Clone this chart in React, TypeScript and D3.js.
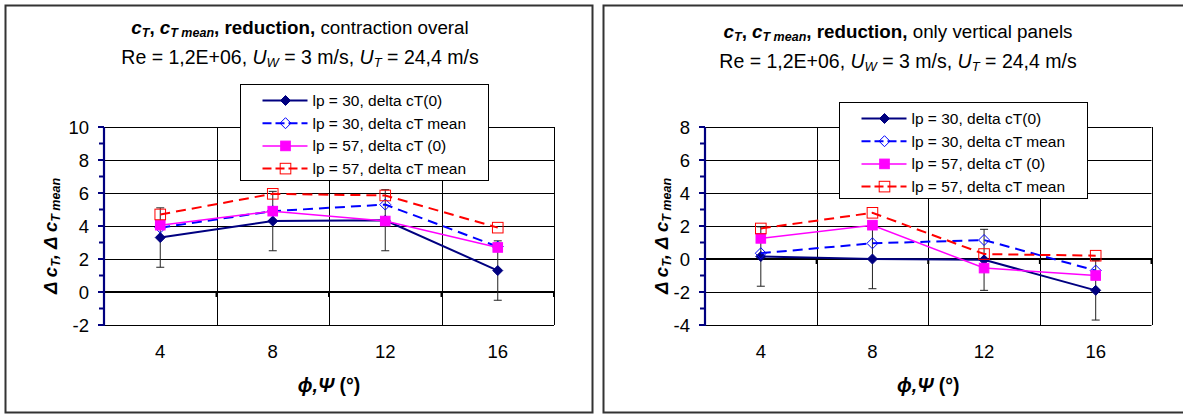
import * as d3 from 'd3'

const categories = [4, 8, 12, 16]
const legendLabels = [
  'lp = 30, delta cT(0)',
  'lp = 30, delta cT mean',
  'lp = 57, delta cT (0)',
  'lp = 57, delta cT mean',
]

// contraction overal
const overalCT0Lp30 = [3.3, 4.3, 4.35, 1.3]
const overalCTMeanLp30 = [3.9, 4.9, 5.3, 2.75]
const overalCT0Lp57 = [4.05, 4.9, 4.3, 2.7]
const overalCTMeanLp57 = [4.7, 5.95, 5.85, 3.9]
const overalErr = [1.8, 1.8, 1.85, 1.8]

// only vertical panels
const verticalCT0Lp30 = [0.15, 0, -0.05, -1.9]
const verticalCTMeanLp30 = [0.35, 0.95, 1.15, -0.7]
const verticalCT0Lp57 = [1.25, 2.05, -0.55, -1.0]
const verticalCTMeanLp57 = [1.85, 2.8, 0.3, 0.2]
const verticalErr = [1.8, 1.8, 1.85, 1.8]

const FONT = '"Liberation Sans", Arial, sans-serif'

const styles = [
  { color: '#000080', dash: undefined, width: 2, marker: 'diamond', fill: true },
  { color: '#0000ff', dash: '10,6', width: 2, marker: 'diamond', fill: false },
  { color: '#ff00ff', dash: undefined, width: 1.5, marker: 'square', fill: true },
  { color: '#ff0000', dash: '10,6', width: 2, marker: 'square', fill: false },
]

function Marker({ x, y, i }: { x: number; y: number; i: number }) {
  const s = styles[i]
  if (s.marker === 'diamond') {
    const r = s.fill ? 5 : 5.5
    return (
      <path
        d={`M${x},${y - r}L${x + r},${y}L${x},${y + r}L${x - r},${y}Z`}
        fill={s.fill ? s.color : 'none'}
        stroke={s.color}
        strokeWidth={1}
      />
    )
  }
  const h = s.fill ? 4.8 : 5.3
  return (
    <rect
      x={x - h}
      y={y - h}
      width={h * 2}
      height={h * 2}
      fill={s.fill ? s.color : 'none'}
      stroke={s.color}
      strokeWidth={1}
    />
  )
}

type PanelProps = {
  frameX: number
  frameW: number
  plotX0: number
  plotX1: number
  yDomain: [number, number]
  series: number[][]
  err: number[]
  subtitle: string
  titleCx: number
  titleY: number
  legendX: number
  legendY: number
  yTitleX: number
}

function Panel(p: PanelProps) {
  const top = 127
  const bottom = 325
  const x = d3.scaleBand<number>().domain(categories).range([p.plotX0, p.plotX1])
  const y = d3.scaleLinear().domain(p.yDomain).range([bottom, top])
  const cx = (c: number) => (x(c) as number) + x.bandwidth() / 2
  const major = y.ticks(6)
  const minor = d3.range(p.yDomain[0] + 1, p.yDomain[1], 2)
  const bounds = categories.map((c) => x(c) as number).concat([p.plotX1])
  const line = d3
    .line<number>()
    .x((_, i) => cx(categories[i]))
    .y((d) => y(d))
  const y0 = y(0)
  const plotCx = (p.plotX0 + p.plotX1) / 2

  return (
    <g fontFamily={FONT}>
      <rect
        x={p.frameX}
        y={5.5}
        width={p.frameW}
        height={407}
        fill="#fff"
        stroke="#333"
        strokeWidth={2}
      />

      {/* title */}
      <text x={p.titleCx} y={p.titleY} textAnchor="middle" fontSize={18.8} fill="#000">
        <tspan fontWeight="bold" fontStyle="italic">c</tspan>
        <tspan fontWeight="bold" fontStyle="italic" fontSize={12.5} dy={3}>T</tspan>
        <tspan fontWeight="bold" dy={-3}>, </tspan>
        <tspan fontWeight="bold" fontStyle="italic">c</tspan>
        <tspan fontWeight="bold" fontStyle="italic" fontSize={12.5} dy={3}>T mean</tspan>
        <tspan fontWeight="bold" dy={-3}>, reduction,</tspan>
        <tspan> {p.subtitle}</tspan>
      </text>
      <text x={p.titleCx} y={p.titleY + 30} textAnchor="middle" fontSize={19.5} fill="#000">
        <tspan>Re = 1,2E+06, </tspan>
        <tspan fontStyle="italic">U</tspan>
        <tspan fontStyle="italic" fontSize={13} dy={3}>W</tspan>
        <tspan dy={-3}> = 3 m/s, </tspan>
        <tspan fontStyle="italic">U</tspan>
        <tspan fontStyle="italic" fontSize={13} dy={3}>T</tspan>
        <tspan dy={-3}> = 24,4 m/s</tspan>
      </text>

      {/* grid */}
      {major.map((t) => (
        <line
          key={'h' + t}
          x1={p.plotX0}
          x2={p.plotX1}
          y1={Math.round(y(t)) + 0.5}
          y2={Math.round(y(t)) + 0.5}
          stroke="#000"
          strokeWidth={1}
        />
      ))}
      {bounds.slice(1).map((b, i) => (
        <line
          key={'v' + i}
          x1={Math.round(b) + 0.5}
          x2={Math.round(b) + 0.5}
          y1={top}
          y2={bottom}
          stroke="#000"
          strokeWidth={1}
        />
      ))}
      {/* zero axis */}
      <line x1={p.plotX0} x2={p.plotX1 + 1} y1={y0} y2={y0} stroke="#000" strokeWidth={2} />
      {bounds.map((b, i) => (
        <line key={'xt' + i} x1={b} x2={b} y1={y0} y2={y0 + 5} stroke="#000" strokeWidth={2} />
      ))}

      {/* y axis */}
      <line x1={p.plotX0} x2={p.plotX0} y1={top} y2={bottom + 1} stroke="#000080" strokeWidth={2.2} />
      {major.map((t) => (
        <line key={'mt' + t} x1={p.plotX0 - 6} x2={p.plotX0} y1={y(t)} y2={y(t)} stroke="#000080" strokeWidth={2} />
      ))}
      {minor.map((t) => (
        <line key={'mn' + t} x1={p.plotX0 - 5} x2={p.plotX0} y1={y(t)} y2={y(t)} stroke="#000080" strokeWidth={2} />
      ))}
      {major.map((t) => (
        <text key={'tl' + t} x={p.plotX0 - 15} y={y(t)} dy="0.36em" textAnchor="end" fontSize={18.5}>
          {t}
        </text>
      ))}
      {categories.map((c) => (
        <text key={'xl' + c} x={cx(c)} y={358} textAnchor="middle" fontSize={18.5}>
          {c}
        </text>
      ))}

      {/* axis titles */}
      <text x={plotCx} y={392} textAnchor="middle" fontSize={19.5} fontWeight="bold">
        <tspan fontStyle="italic">ϕ,Ψ</tspan>
        <tspan> (°)</tspan>
      </text>
      <text
        transform={`translate(${p.yTitleX},236) rotate(-90)`}
        textAnchor="middle"
        fontSize={18.5}
        fontWeight="bold"
        fontStyle="italic"
      >
        <tspan>Δ c</tspan>
        <tspan fontSize={12.5} dy={3}>T</tspan>
        <tspan dy={-3}>, Δ c</tspan>
        <tspan fontSize={12.5} dy={3}>T mean</tspan>
      </text>

      {/* series */}
      {p.series.map((vals, si) => (
        <g key={'s' + si}>
          <path
            d={line(vals) ?? ''}
            fill="none"
            stroke={styles[si].color}
            strokeWidth={styles[si].width}
            strokeDasharray={styles[si].dash}
          />
          {si === 0 &&
            vals.map((v, i) => {
              const xx = cx(categories[i])
              const y1 = y(v + p.err[i])
              const y2 = y(v - p.err[i])
              return (
                <g key={'e' + i} stroke="#222" strokeWidth={1}>
                  <line x1={xx} x2={xx} y1={y1} y2={y2} />
                  <line x1={xx - 4} x2={xx + 4} y1={y1} y2={y1} />
                  <line x1={xx - 4} x2={xx + 4} y1={y2} y2={y2} />
                </g>
              )
            })}
          {vals.map((v, i) => (
            <Marker key={'m' + i} x={cx(categories[i])} y={y(v)} i={si} />
          ))}
        </g>
      ))}

      {/* legend */}
      <rect x={p.legendX} y={p.legendY} width={248} height={96} fill="#fff" stroke="#000" strokeWidth={1} />
      {legendLabels.map((lab, i) => {
        const ly = p.legendY + 16 + i * 22.7
        const s = styles[i]
        return (
          <g key={'lg' + i}>
            <line
              x1={p.legendX + 22}
              x2={p.legendX + 67}
              y1={ly}
              y2={ly}
              stroke={s.color}
              strokeWidth={s.width}
              strokeDasharray={s.dash ? '9,4' : undefined}
            />
            <Marker x={p.legendX + 45} y={ly} i={i} />
            <text x={p.legendX + 72} y={ly} dy="0.36em" fontSize={15.5}>
              {lab}
            </text>
          </g>
        )
      })}
    </g>
  )
}

export default function App() {
  return (
    <svg
      width={1183}
      height={414}
      style={{ position: 'absolute', left: 0, top: 0, display: 'block', background: '#fff' }}
    >
      <Panel
        frameX={5.5}
        frameW={587}
        plotX0={104}
        plotX1={554}
        yDomain={[-2, 10]}
        series={[overalCT0Lp30, overalCTMeanLp30, overalCT0Lp57, overalCTMeanLp57]}
        err={overalErr}
        subtitle="contraction overal"
        titleCx={300}
        titleY={34}
        legendX={240.5}
        legendY={84.5}
        yTitleX={57}
      />
      <Panel
        frameX={603.5}
        frameW={600}
        plotX0={705}
        plotX1={1151.5}
        yDomain={[-4, 8]}
        series={[verticalCT0Lp30, verticalCTMeanLp30, verticalCT0Lp57, verticalCTMeanLp57]}
        err={verticalErr}
        subtitle="only vertical panels"
        titleCx={898}
        titleY={38}
        legendX={839.5}
        legendY={102.5}
        yTitleX={668}
      />
    </svg>
  )
}
